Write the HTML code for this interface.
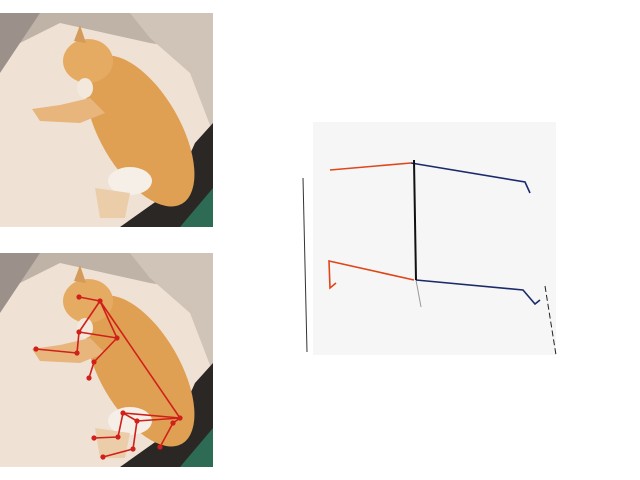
<!DOCTYPE html>
<html><head><meta charset="utf-8"><style>
html,body{margin:0;padding:0;background:#fff;width:640px;height:480px;overflow:hidden}
svg{position:absolute;left:0;top:0}
</style></head><body>
<svg width="640" height="480" viewBox="0 0 640 480">
<defs>
<symbol id="photo" viewBox="0 0 213 214" width="213" height="214">
  <rect x="0" y="0" width="213" height="214" fill="#efe2d4"/>
  <polygon points="0,0 213,0 213,40 150,30 60,10 0,40" fill="#bfb2a6"/>
  <polygon points="0,0 40,0 0,60" fill="#9c918a"/>
  <polygon points="130,0 213,0 213,120 190,60 150,25" fill="#d0c4b8"/>
  <polygon points="213,110 213,214 120,214 175,175 195,130" fill="#2a2724"/>
  <polygon points="213,175 213,214 180,214" fill="#2d6b55"/>
  <ellipse cx="140" cy="118" rx="40" ry="84" transform="rotate(-30 140 118)" fill="#e0a053"/>
  <ellipse cx="88" cy="48" rx="25" ry="22" fill="#e6ab62"/>
  <polygon points="74,28 80,12 86,30" fill="#d49b5b"/>
  <polygon points="60,92 90,85 105,100 80,110 40,108 32,96" fill="#e8b57c"/>
  <ellipse cx="130" cy="168" rx="22" ry="14" fill="#f5efe8"/>
  <ellipse cx="85" cy="75" rx="8" ry="10" fill="#f2e8dc"/>
  <polygon points="95,175 130,180 125,205 100,205" fill="#ebcdaa"/>
</symbol>
</defs>
<g><use href="#photo" x="0" y="13"/></g>
<g><use href="#photo" x="0" y="253"/></g>
<g id="skel"></g>
<rect x="313" y="122" width="243" height="233" fill="#f6f6f6"/>
<line x1="303" y1="178" x2="307" y2="352" stroke="#333" stroke-width="1"/>
<line x1="545" y1="286" x2="556" y2="355" stroke="#222" stroke-width="1" stroke-dasharray="6,3"/>
<g id="pose"></g>
</svg>
<script>
const kp = [[79,297],[100,301],[79,332],[77,353],[36,349],[117,338],[94,362],[89,378],[180,418],[123,413],[118,437],[94,438],[137,421],[133,449],[103,457],[173,423],[160,447]];
const bones = [[0,1],[1,2],[2,3],[3,4],[1,5],[5,6],[6,7],[2,5],[1,8],[8,9],[9,10],[10,11],[8,12],[12,13],[13,14],[9,12],[8,15],[15,16]];
const NS="http://www.w3.org/2000/svg";
const sk=document.getElementById('skel');
bones.forEach(b=>{const l=document.createElementNS(NS,'line');
l.setAttribute('x1',kp[b[0]][0]);l.setAttribute('y1',kp[b[0]][1]);l.setAttribute('x2',kp[b[1]][0]);l.setAttribute('y2',kp[b[1]][1]);
l.setAttribute('stroke','#d0201a');l.setAttribute('stroke-width','1.6');


sk.appendChild(l);});
kp.forEach(p=>{const c=document.createElementNS(NS,'circle');
c.setAttribute('cx',p[0]);c.setAttribute('cy',p[1]);c.setAttribute('r','2.6');c.setAttribute('fill','#d0201a');


sk.appendChild(c);});
const poseOrange = [[[330,170],[411,163]],[[336,283],[330,288],[329,261],[414,280]]];
const poseBlue = [[[411,163],[525,182],[530,193]],[[416,280],[523,290],[535,304],[540,300]]];
const poseBlack = [[[414,160],[416,280]]];
const poseGrey = [[[416,280],[421,307]]];
const pg=document.getElementById('pose');
function draw(set,col,w,name){set.forEach(pts=>{const p=document.createElementNS(NS,'polyline');
p.setAttribute('points',pts.map(q=>q.join(',')).join(' '));p.setAttribute('fill','none');p.setAttribute('stroke',col);p.setAttribute('stroke-width',w);


pg.appendChild(p);});}
draw(poseGrey,'#999',1,'pose-limb-grey');
draw(poseOrange,'#e0461a',1.6,'pose-limb-left');
draw(poseBlue,'#1a2a6a',1.6,'pose-limb-right');
draw(poseBlack,'#111',2,'pose-spine');
</script>
</body></html>
